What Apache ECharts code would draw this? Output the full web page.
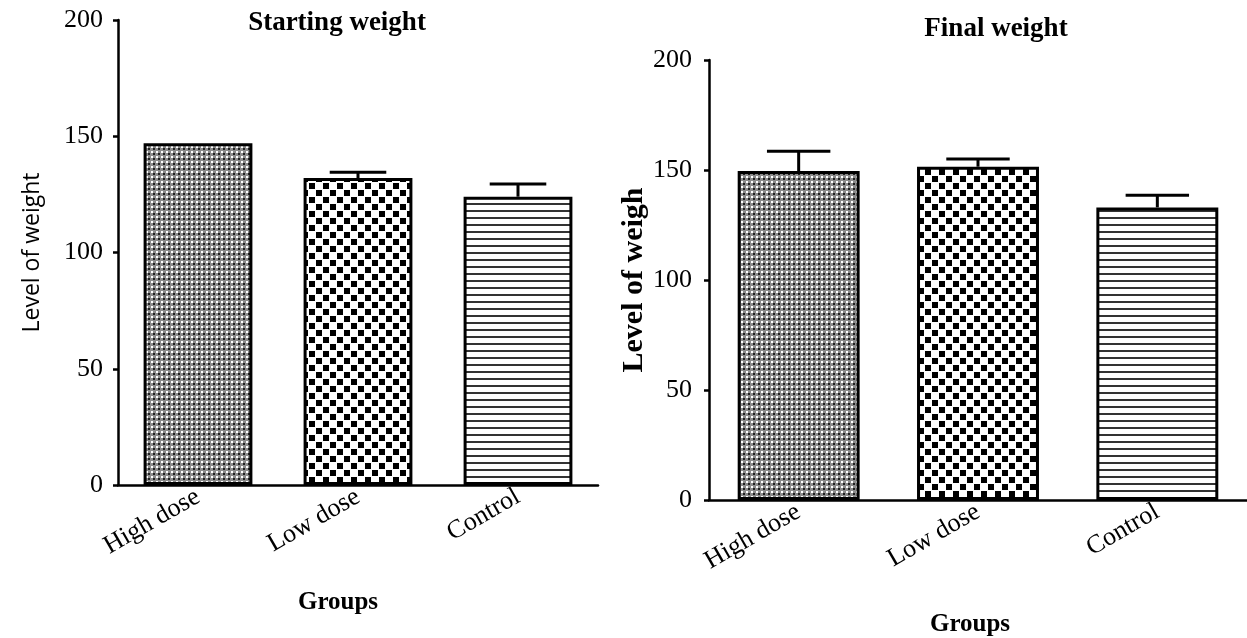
<!DOCTYPE html>
<html>
<head>
<meta charset="utf-8">
<script src="https://cdn.jsdelivr.net/npm/echarts@6/dist/echarts.min.js"></script>
<style>
  html, body { margin: 0; padding: 0; background: #fff; }
  #chart { width: 1247px; height: 638px; }
</style>
</head>
<body>
<div id="chart"></div>
<script>
// data
const groups = ['High dose', 'Low dose', 'Control'];
const startMean = [147, 132, 124];
const startErrTop = [147, 134.5, 129.5];
const finalMean = [149.5, 151.5, 133];
const finalErrTop = [158.5, 155, 138.5];
const yTicks = [0, 50, 100, 150, 200];

// fill patterns drawn on small canvases
function makeTile(w, h, draw) {
  const c = document.createElement('canvas');
  c.width = w; c.height = h;
  draw(c.getContext('2d'));
  return c;
}
// dotted gray (high dose)
const dotTile = makeTile(5, 5, function (g) {
  g.fillStyle = '#8c8c8c'; g.fillRect(0, 0, 5, 5);
  g.fillStyle = '#ffffff'; g.fillRect(1, 1, 2, 2);
  g.fillStyle = '#222'; g.fillRect(3, 3, 2, 2);
});
// checkerboard (low dose)
const checkTile = makeTile(14, 14, function (g) {
  g.fillStyle = '#fff'; g.fillRect(0, 0, 14, 14);
  g.fillStyle = '#000';
  g.fillRect(1, 1, 6, 6);
  g.fillRect(8, 8, 6, 6);
});
// horizontal stripes (control)
const stripeTile = makeTile(4, 7, function (g) {
  g.fillStyle = '#fff'; g.fillRect(0, 0, 4, 7);
  g.fillStyle = '#333'; g.fillRect(0, 0, 4, 2);
});
const fills = [dotTile, checkTile, stripeTile];

function barData(vals) {
  return vals.map(function (v, i) {
    return {
      value: v,
      itemStyle: { color: { image: fills[i], repeat: 'repeat' }, borderColor: '#000', borderWidth: 3 }
    };
  });
}

function errData(mean, top) {
  return mean.map(function (m, i) { return [i, m, top[i]]; });
}

// error bar = stem + cap
function errRender(params, api) {
  const i = api.value(0);
  if (api.value(2) <= api.value(1)) return null;
  const base = api.coord([i, api.value(1)]);
  const top = api.coord([i, api.value(2)]);
  const hw = api.size([1, 0])[0] * 0.68 * 0.26;
  const st = { stroke: '#000', lineWidth: 3 };
  return {
    type: 'group',
    children: [
      { type: 'line', shape: { x1: top[0], y1: top[1], x2: base[0], y2: base[1] }, style: st },
      { type: 'line', shape: { x1: top[0] - hw, y1: top[1], x2: top[0] + hw, y2: top[1] }, style: st }
    ]
  };
}

const serif = 'Liberation Serif';

function xAx(gi) {
  return {
    type: 'category', gridIndex: gi, data: groups,
    axisLine: { lineStyle: { color: '#000', width: 2.5 } },
    axisTick: { alignWithLabel: true, length: 8, lineStyle: { color: '#000', width: 2.5 } },
    axisLabel: { rotate: 30, margin: 10, color: '#000', fontFamily: serif, fontSize: 26 }
  };
}

function yAx(gi, name, nameFont, nameWeight, nameSize, gap, labMargin) {
  return {
    type: 'value', gridIndex: gi, min: 0, max: 200, interval: 50,
    name: name, nameLocation: 'middle', nameGap: gap,
    nameTextStyle: { color: '#000', fontFamily: nameFont, fontWeight: nameWeight, fontSize: nameSize },
    axisLine: { show: true, lineStyle: { color: '#000', width: 2.5 } },
    axisTick: { show: true, length: 5, lineStyle: { color: '#000', width: 2.5 } },
    splitLine: { show: false },
    axisLabel: {
      margin: labMargin, color: '#000', fontFamily: serif, fontSize: 26,
      formatter: function (v) { return yTicks.indexOf(v) >= 0 ? String(v) : ''; }
    }
  };
}

const chart = echarts.init(document.getElementById('chart'));
chart.setOption({
  animation: false,
  backgroundColor: '#fff',
  title: [
    { text: 'Starting weight', left: 337, top: 10, textAlign: 'center', padding: 0,
      textStyle: { fontFamily: serif, fontWeight: 'bold', fontSize: 27, color: '#000' } },
    { text: 'Final weight', left: 996, top: 16, textAlign: 'center', padding: 0,
      textStyle: { fontFamily: serif, fontWeight: 'bold', fontSize: 27, color: '#000' } },
    { text: 'Groups', left: 338, top: 590, textAlign: 'center', padding: 0,
      textStyle: { fontFamily: serif, fontWeight: 'bold', fontSize: 25, color: '#000' } },
    { text: 'Groups', left: 970, top: 612, textAlign: 'center', padding: 0,
      textStyle: { fontFamily: serif, fontWeight: 'bold', fontSize: 25, color: '#000' } }
  ],
  grid: [
    { left: 118, top: 20, width: 480, height: 465 },
    { left: 709, top: 60, width: 546, height: 440 }
  ],
  xAxis: [xAx(0), xAx(1)],
  yAxis: [
    yAx(0, 'Level of weight', 'Open Sans', 'normal', 23, 74, 15),
    yAx(1, 'Level of weigh', serif, 'bold', 30, 53, 17)
  ],
  series: [
    { type: 'bar', xAxisIndex: 0, yAxisIndex: 0, barWidth: '68%', data: barData(startMean) },
    { type: 'custom', xAxisIndex: 0, yAxisIndex: 0, renderItem: errRender, data: errData(startMean, startErrTop), z: 5 },
    { type: 'bar', xAxisIndex: 1, yAxisIndex: 1, barWidth: '68%', data: barData(finalMean) },
    { type: 'custom', xAxisIndex: 1, yAxisIndex: 1, renderItem: errRender, data: errData(finalMean, finalErrTop), z: 5 }
  ]
});
</script>
</body>
</html>
